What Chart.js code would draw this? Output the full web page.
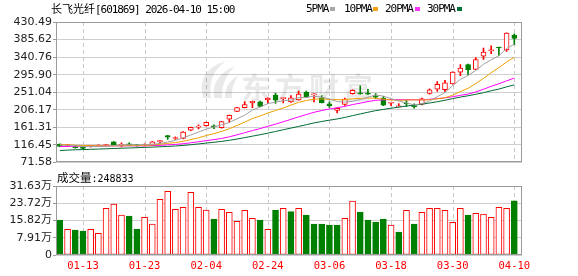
<!DOCTYPE html>
<html><head><meta charset="utf-8">
<script src="https://cdn.jsdelivr.net/npm/chart.js@4.4.1/dist/chart.umd.min.js"></script>
<style>
html,body{margin:0;padding:0;background:#fff;width:578px;height:276px;overflow:hidden;position:relative}
canvas{position:absolute;left:0}
.t{position:absolute;font-family:'DejaVu Sans Mono',monospace;font-size:11px;color:#000;white-space:nowrap;line-height:13px;letter-spacing:-1.05px}
.cjk{font-family:'Noto Sans CJK SC',sans-serif;letter-spacing:0}
.sq{position:absolute;width:5px;height:4px;top:7px}
</style></head><body>
<canvas id="k" width="578" height="170" style="top:0"></canvas>
<canvas id="v" width="578" height="106" style="top:170px"></canvas>
<div class="t" style="left:51px;top:2px"><span class="cjk">长飞光纤</span>[601869] 2026-04-10 15:00</div>
<div class="t" style="left:306px;top:2px">5PMA</div><div class="sq" style="left:330px;background:#a8a8a8"></div>
<div class="t" style="left:344px;top:2px">10PMA</div><div class="sq" style="left:373px;background:#f2a20c"></div>
<div class="t" style="left:385px;top:2px">20PMA</div><div class="sq" style="left:415px;background:#ff33ff"></div>
<div class="t" style="left:427px;top:2px">30PMA</div><div class="sq" style="left:457px;background:#00703a"></div>
<div class="t" style="left:57px;top:171px;font-size:10px;letter-spacing:0"><span class="cjk" style="font-size:11.5px">成交量</span>:248833</div>
<script>
const dates = ['01-08','01-09','01-12','01-13','01-14','01-15','01-16','01-19','01-20','01-21',
'01-22','01-23','01-26','01-27','01-28','01-29','01-30','02-02','02-03','02-04',
'02-05','02-06','02-09','02-10','02-11','02-12','02-13','02-24','02-25','02-26',
'02-27','03-02','03-03','03-04','03-05','03-06','03-09','03-10','03-11','03-12',
'03-13','03-16','03-17','03-18','03-19','03-20','03-23','03-24','03-25','03-26',
'03-27','03-30','03-31','04-01','04-02','04-03','04-07','04-08','04-09','04-10'];
const tickDates = ['01-13','01-23','02-04','02-24','03-06','03-18','03-30','04-10'];

const openP = [118.5,114.3,111.7,111.0,111.7,113.0,114.3,124.3,115.5,119.3,
116.8,114.3,115.0,124.3,140.1,132.6,132.6,153.7,161.9,165.2,
164.4,160.2,182.0,202.1,211.4,223.9,226.4,231.5,243.5,234.7,
225.9,231.0,251.6,244.0,236.5,221.4,204.6,219.7,247.3,248.5,
247.8,241.5,236.0,222.7,213.4,223.4,215.9,220.4,248.0,259.1,
257.3,272.4,302.5,321.8,309.5,343.2,357.0,366.5,359.0,396.6];
const closeP = [112.5,116.8,109.2,107.5,114.3,115.5,116.8,116.8,118.0,116.8,
114.3,116.8,124.3,127.6,136.1,134.3,149.4,161.2,164.4,173.7,
162.7,175.7,192.1,211.4,219.7,228.0,214.6,236.0,230.5,236.5,
236.5,246.0,239.0,246.5,223.9,215.9,209.6,233.5,255.6,246.5,
246.0,238.5,217.9,224.7,215.4,220.9,213.9,234.0,257.3,271.1,
274.9,302.5,312.5,308.8,334.6,353.9,359.5,364.0,402.4,388.6];
const highP = [119.3,118.0,113.0,111.7,115.5,116.8,118.0,125.0,121.8,121.8,
118.0,119.3,125.0,128.1,140.6,136.8,150.1,161.9,167.7,174.5,
167.7,176.3,192.8,212.1,227.2,228.5,228.5,236.5,249.0,236.8,
242.3,253.6,253.6,247.3,242.3,225.9,210.9,236.0,257.3,267.4,
258.1,247.3,239.7,224.8,222.2,231.5,221.4,236.0,259.8,278.2,
281.2,303.3,321.8,322.6,339.4,364.0,369.5,366.6,402.9,400.4];
const lowP = [111.7,111.7,108.0,106.7,110.5,111.7,113.0,116.0,111.0,115.0,
113.0,113.0,114.3,119.3,130.1,130.1,131.8,152.7,156.9,164.4,
157.7,159.4,173.7,201.3,210.9,211.4,213.4,222.2,222.2,223.9,
224.7,230.5,237.2,226.4,223.4,212.1,198.3,217.2,246.0,246.0,
245.5,234.7,216.4,216.4,212.9,214.6,210.4,218.4,246.0,253.0,
252.3,271.6,293.0,295.0,308.8,334.6,349.4,345.2,355.2,372.8];

const ma5 = [116.0,115.0,114.0,112.5,112.1,112.7,112.7,114.2,116.3,116.8,
116.5,116.5,118.0,120.0,123.8,127.8,134.3,141.7,149.1,156.6,
162.3,167.5,173.7,183.1,192.3,205.4,213.2,221.9,225.8,229.1,
230.8,237.1,237.7,240.9,238.4,234.3,227.0,225.9,227.7,232.2,
238.2,244.0,240.9,234.7,228.5,223.5,218.6,221.8,228.3,239.4,
250.2,268.0,283.7,294.0,306.7,322.5,333.9,344.2,362.9,373.7];
const ma10 = [117.0,116.5,115.5,114.8,114.3,114.0,113.8,113.8,114.0,114.4,
114.6,114.6,116.1,118.1,120.3,122.2,125.4,129.9,134.5,140.2,
145.1,150.9,157.7,166.1,174.5,183.8,190.4,197.8,204.4,210.7,
218.1,225.1,229.8,233.3,233.8,232.5,232.0,231.8,234.3,235.3,
236.3,235.5,233.4,231.2,230.4,230.9,231.3,231.3,231.5,234.0,
236.9,243.3,252.7,261.1,273.1,286.4,300.9,313.9,328.4,340.2];
const ma20 = [112.0,112.5,113.0,113.3,113.5,113.7,113.8,113.9,113.9,113.9,
113.9,113.9,114.5,115.2,116.4,117.5,119.3,121.7,124.3,127.3,
129.8,132.8,136.9,142.1,147.4,153.0,157.9,163.9,169.5,175.5,
181.6,188.0,193.8,199.7,204.1,208.2,211.2,214.8,219.4,223.0,
227.2,230.3,231.6,232.3,232.1,231.7,231.7,231.6,232.9,234.6,
236.6,239.4,243.1,246.2,251.7,258.6,266.1,272.6,280.0,287.1];
const ma30 = [102.0,103.0,103.8,104.4,105.0,105.7,106.4,107.1,107.8,108.5,
109.2,109.9,110.7,111.5,112.5,113.6,115.0,116.8,118.8,121.0,
123.0,125.3,128.0,131.3,134.9,138.7,142.3,146.4,150.6,155.1,
159.3,163.6,167.9,172.5,176.2,179.5,182.6,186.5,191.1,195.4,
199.8,203.9,207.0,210.2,212.9,215.7,217.9,220.3,223.4,226.7,
230.4,234.6,238.6,241.9,245.7,249.9,254.7,259.0,264.7,269.8];

const volume = [160400,117800,114600,110000,117800,99500,214000,233800,183400,178800,
119200,172800,142100,255300,291900,209500,218600,287400,218600,206300,
165000,209500,195700,154500,204800,168100,160400,117800,206300,214000,
198500,214000,183400,142100,142100,137500,137500,168100,247500,197100,
160400,151300,165000,137500,105400,204800,142100,195700,214000,214000,
204800,149700,214000,183400,191000,188000,172800,218600,214000,248833];
const volUp = [0,1,0,0,1,1,1,1,1,0, 0,1,1,1,1,1,1,1,1,1, 0,1,1,1,1,1,0,1,0,1,
0,1,0,0,0,0,0,1,1,0, 0,0,0,1,0,1,0,1,1,1, 1,1,1,0,1,1,1,1,1,0];

const priceTicks = [71.58,116.45,161.31,206.17,251.04,295.90,340.76,385.62,430.49];
const priceTickLabels = ['71.58','116.45','161.31','206.17','251.04','295.90','340.76','385.62','430.49'];
const volTicks = [0,79075,158150,237225,316300];
const volTickLabels = ['0','7.91万','15.82万','23.72万','31.63万'];

const RED = '#ff0000', GREEN = '#008000';
const N = dates.length;
const tickPos = tickDates.map(d => dates.indexOf(d) + 1);
const xs = dates.map((d, i) => i + 1);

Chart.defaults.animation = false;
Chart.defaults.responsive = false;
Chart.defaults.devicePixelRatio = 1;
Chart.defaults.plugins.legend.display = false;
Chart.defaults.plugins.tooltip.enabled = false;

const frame = {id:'frame', afterDraw(c){
  const {ctx, chartArea:a} = c;
  ctx.save(); ctx.strokeStyle = '#9a9a9a'; ctx.lineWidth = 1;
  ctx.strokeRect(Math.round(a.left)+0.5, Math.round(a.top)+0.5, Math.round(a.right-a.left)-1, Math.round(a.bottom-a.top)-1);
  ctx.restore();
}};
const vdash = {id:'vdash', beforeDatasetsDraw(c){
  const {ctx, chartArea:a, scales} = c;
  ctx.save(); ctx.strokeStyle = '#c8c8c8'; ctx.lineWidth = 1; ctx.setLineDash([4,3]);
  tickPos.forEach(v => {
    const x = Math.round(scales.x.getPixelForValue(v)) + 0.5;
    ctx.beginPath(); ctx.moveTo(x, a.top); ctx.lineTo(x, a.bottom); ctx.stroke();
  });
  ctx.restore();
}};
const watermark = {id:'watermark', beforeDatasetsDraw(c){
  const ctx = c.ctx; ctx.save();
  ctx.fillStyle = 'rgba(0,0,0,0.085)';
  ctx.font = 'bold 30px "Noto Sans CJK SC"';
  ctx.letterSpacing = '4px';
  ctx.textBaseline = 'alphabetic';
  ctx.fillText('东方财富', 241, 99);
  ctx.beginPath(); ctx.moveTo(203,98); ctx.quadraticCurveTo(196,70,226,61); ctx.quadraticCurveTo(207,74,211,98); ctx.closePath(); ctx.fill();
  ctx.beginPath(); ctx.moveTo(214,98); ctx.quadraticCurveTo(211,76,235,66); ctx.quadraticCurveTo(221,80,222,98); ctx.closePath(); ctx.fill();
  ctx.beginPath(); ctx.moveTo(225,98); ctx.quadraticCurveTo(225,82,238,76); ctx.quadraticCurveTo(231,86,232,98); ctx.closePath(); ctx.fill();
  ctx.restore();
}};

function xScale(showLabels){
  return {
    type: 'linear', min: 0.5, max: N + 1, offset: false,
    afterBuildTicks: s => { s.ticks = tickPos.map(v => ({value: v})); },
    afterFit: s => { s.height = showLabels ? 21 : 0; },
    ticks: {display: showLabels, autoSkip: false, maxRotation: 0, padding: 5,
      color: '#ff0000', font: {family: 'DejaVu Sans Mono', size: 10.5},
      callback: v => dates[v - 1]},
    grid: {display: false, drawTicks: false},
    border: {display: false}
  };
}

const up = openP.map((o, i) => closeP[i] >= o);

new Chart(document.getElementById('k'), {
  type: 'bar',
  data: {
    datasets: [
      {type:'line', data: xs.map((x,i)=>({x, y: ma5[i]})), borderColor:'#a0a0a0', borderWidth:1, pointRadius:0, order:1},
      {type:'line', data: xs.map((x,i)=>({x, y: ma10[i]})), borderColor:'#f0a000', borderWidth:1, pointRadius:0, order:1},
      {type:'line', data: xs.map((x,i)=>({x, y: ma20[i]})), borderColor:'#ff00ff', borderWidth:1, pointRadius:0, order:1},
      {type:'line', data: xs.map((x,i)=>({x, y: ma30[i]})), borderColor:'#006a35', borderWidth:1, pointRadius:0, order:1},
      {type:'bar', grouped:false, order:2, barThickness:5, minBarLength:1, borderSkipped:false, borderWidth:1,
        data: xs.map((x,i)=>({x, y:[openP[i], closeP[i]]})),
        backgroundColor: up.map(u => u ? '#ffffff' : GREEN),
        borderColor: up.map(u => u ? RED : GREEN)},
      {type:'bar', grouped:false, order:3, barThickness:1, minBarLength:1, borderWidth:0,
        data: xs.map((x,i)=>({x, y:[lowP[i], highP[i]]})),
        backgroundColor: up.map(u => u ? RED : GREEN)}
    ]
  },
  options: {
    layout: {padding: {top: 22, right: 56, bottom: 5, left: 0}},
    scales: {
      x: xScale(false),
      y: {
        min: 71.58, max: 430.49,
        afterBuildTicks: s => { s.ticks = priceTicks.map(v => ({value: v})); },
        afterFit: s => { s.width = 56; },
        ticks: {autoSkip: false, padding: 1, color: '#222', font: {family: 'DejaVu Sans', size: 11},
          callback: (v, i) => priceTickLabels[i]},
        grid: {color: '#cfcfcf', tickLength: 3, tickColor: '#9a9a9a'},
        border: {display: false}
      }
    }
  },
  plugins: [vdash, watermark, frame]
});

new Chart(document.getElementById('v'), {
  type: 'bar',
  data: {
    datasets: [{
      data: xs.map((x,i)=>({x, y: volume[i]})),
      barThickness: 6, borderWidth: 1, borderSkipped: false,
      backgroundColor: volUp.map(u => u ? '#ffffff' : GREEN),
      borderColor: volUp.map(u => u ? RED : GREEN)
    }]
  },
  options: {
    layout: {padding: {top: 16, right: 56, bottom: 0, left: 0}},
    scales: {
      x: xScale(true),
      y: {
        min: 0, max: 316300,
        afterBuildTicks: s => { s.ticks = volTicks.map(v => ({value: v})); },
        afterFit: s => { s.width = 56; },
        ticks: {autoSkip: false, padding: 1, color: '#222', font: {family: "'DejaVu Sans', 'Noto Sans CJK SC'", size: 11},
          callback: (v, i) => volTickLabels[i]},
        grid: {color: '#cfcfcf', tickLength: 3, tickColor: '#9a9a9a'},
        border: {display: false}
      }
    }
  },
  plugins: [vdash, frame]
});
</script>
</body></html>
